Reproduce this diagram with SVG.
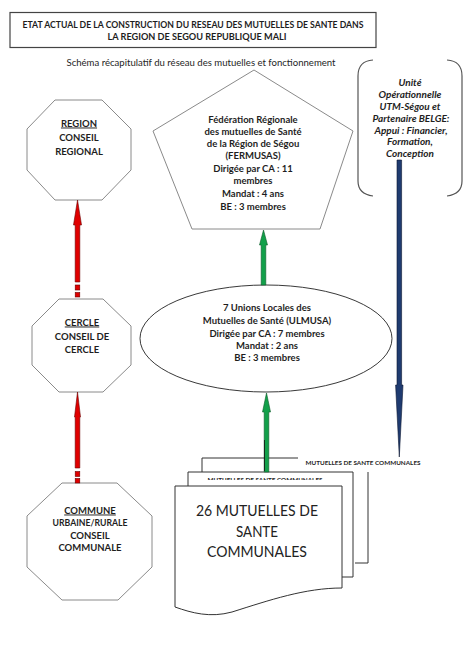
<svg xmlns="http://www.w3.org/2000/svg" width="474" height="647" viewBox="0 0 474 647">
<style>
  text { font-family: Lato, "Open Sans", "Liberation Sans", sans-serif; fill: #1e1e1e; text-anchor: middle; }
  .b { font-weight: bold; font-size: 9.5px; }
  .t { font-weight: bold; font-size: 9px; }
  .s { font-size: 8.5px; }
  .i { font-weight: bold; font-style: italic; font-size: 10px; }
  .d { font-weight: bold; font-size: 6.4px; }
  .big { font-size: 15px; fill: #222; }
  .oct { fill: #fff; stroke: #8a8a8a; stroke-width: 1; }
  .doc { fill: #fff; stroke: #333; stroke-width: 1; }
  .red { fill: #e00000; stroke: #6a0000; stroke-width: 0.6; }
  .grn { fill: #12a04a; stroke: #0a5a28; stroke-width: 0.6; }
  .blu { fill: #1f3b70; stroke: #0a1630; stroke-width: 0.6; }
</style>
<defs>
  <clipPath id="midclip"><rect x="180" y="470" width="180" height="10"/></clipPath>
</defs>
<rect width="474" height="647" fill="#fff"/>

<g id="title">
  <rect x="10" y="12.5" width="366" height="35" fill="#fff" stroke="#444" stroke-width="1.2"/>
  <text class="t" x="193" y="28" textLength="341" lengthAdjust="spacingAndGlyphs">ETAT ACTUAL DE LA CONSTRUCTION DU RESEAU DES MUTUELLES DE SANTE DANS</text>
  <text class="t" x="197" y="40" textLength="179" lengthAdjust="spacingAndGlyphs">LA REGION DE SEGOU REPUBLIQUE MALI</text>
</g>
<g id="subtitle">
  <text class="s" x="201" y="65.5" textLength="269" lengthAdjust="spacingAndGlyphs">Schéma récapitulatif du réseau des mutuelles et  fonctionnement</text>
</g>

<g id="region">
  <polygon class="oct" points="55,100 102,100 131,129 131,170 102,200 55,200 27,170 27,129"/>
  <text class="b" x="79" y="126.5" text-decoration="underline">REGION</text>
  <text class="b" x="79" y="140.5">CONSEIL</text>
  <text class="b" x="79" y="154.5">REGIONAL</text>
</g>

<g id="cercle">
  <polygon class="oct" points="59,299 103,299 131,326 131,365 103,392 59,392 32,365 32,326"/>
  <text class="b" x="82" y="325.5" text-decoration="underline">CERCLE</text>
  <text class="b" x="82" y="339.5">CONSEIL DE</text>
  <text class="b" x="82" y="352.5">CERCLE</text>
</g>

<g id="commune">
  <polygon class="oct" points="62,483 117,483 152,516 152,567 118,600 62,600 27,567 27,516"/>
  <text class="b" x="90" y="513.5" text-decoration="underline">COMMUNE</text>
  <text class="b" x="90" y="525.5" textLength="75" lengthAdjust="spacingAndGlyphs">URBAINE/RURALE</text>
  <text class="b" x="90" y="538.5">CONSEIL</text>
  <text class="b" x="90" y="550.5">COMMUNALE</text>
</g>

<g id="fermusas">
  <polygon points="254,70 353,131 320,229 192,229 153,131" fill="#fff" stroke="#8a8a8a" stroke-width="1"/>
  <text class="b" x="253" y="122.5">Fédération Régionale</text>
  <text class="b" x="253" y="134.5">des mutuelles de Santé</text>
  <text class="b" x="253" y="146.5">de la Région de Ségou</text>
  <text class="b" x="253" y="158.5">(FERMUSAS)</text>
  <text class="b" x="253" y="171.5">Dirigée par CA : 11</text>
  <text class="b" x="253" y="183.5">membres</text>
  <text class="b" x="253" y="196.5">Mandat : 4 ans</text>
  <text class="b" x="253" y="209.5">BE : 3 membres</text>
</g>

<g id="ulmusa">
  <ellipse cx="266" cy="338.5" rx="126" ry="53.5" fill="#fff" stroke="#222" stroke-width="0.9"/>
  <text class="b" x="267" y="310.5">7 Unions Locales des</text>
  <text class="b" x="267" y="323.5">Mutuelles de Santé (ULMUSA)</text>
  <text class="b" x="267" y="336.5">Dirigée par CA : 7 membres</text>
  <text class="b" x="267" y="348.5">Mandat : 2 ans</text>
  <text class="b" x="267" y="360.5">BE : 3 membres</text>
</g>

<g id="utm">
  <path d="M373,60 Q358,61 358,76 V181 Q358,194 373,196 M447,60 Q462,61 462,76 V181 Q462,194 447,196" fill="none" stroke="#555" stroke-width="1.2"/>
  <text class="i" x="410" y="85.5">Unité</text>
  <text class="i" x="410" y="98">Opérationnelle</text>
  <text class="i" x="410" y="110">UTM-Ségou et</text>
  <text class="i" x="411" y="121.5">Partenaire BELGE:</text>
  <text class="i" x="411" y="133.5">Appui : Financier,</text>
  <text class="i" x="410" y="145">Formation,</text>
  <text class="i" x="410" y="156.5">Conception</text>
</g>

<g id="mutuelles">
  <path class="doc" d="M202,472 V458 H298 M368,472 V563 H355" fill="none"/>
  <text class="d" x="363" y="465" textLength="115" lengthAdjust="spacingAndGlyphs">MUTUELLES DE SANTE COMMUNALES</text>
  <path class="doc" d="M188,486 V472 H353 V577 H342" fill="none"/>
  <text class="d" x="265" y="482" textLength="115" lengthAdjust="spacingAndGlyphs" clip-path="url(#midclip)">MUTUELLES DE SANTE COMMUNALES</text>
  <path class="doc" d="M175,486 H342 V588 C305,588 270,600 232,612 C210,618 192,613 175,607 Z"/>
  <text class="big" x="257" y="516" textLength="122" lengthAdjust="spacingAndGlyphs">26 MUTUELLES DE</text>
  <text class="big" x="257" y="536.5" textLength="42" lengthAdjust="spacingAndGlyphs">SANTE</text>
  <text class="big" x="257" y="556.5" textLength="100" lengthAdjust="spacingAndGlyphs">COMMUNALES</text>
</g>

<g id="connectors">
  <!-- cercle -> region -->
  <polygon class="red" points="77.5,200 81.5,225 79.8,225 79.8,282 75.2,282 75.2,225 73.5,225"/>
  <rect class="red" x="75.2" y="285" width="4.6" height="5"/>
  <rect class="red" x="75.2" y="292.5" width="4.6" height="4.5"/>
  <!-- commune -> cercle -->
  <polygon class="red" points="77.5,392 80.5,417 79.8,417 79.8,468 75.2,468 75.2,417 74.5,417"/>
  <rect class="red" x="75.2" y="471.5" width="4.6" height="5"/>
  <rect class="red" x="75.2" y="478.5" width="4.6" height="4.5"/>
  <!-- ulmusa -> fermusas -->
  <polygon class="grn" points="263.5,230 267.5,245 265.8,245 265.8,285 261.2,285 261.2,245 259.5,245"/>
  <!-- mutuelles -> ulmusa -->
  <polygon class="grn" points="266.5,393 270.5,412 268.8,412 268.8,472 264.2,472 264.2,412 262.5,412"/>
  <line x1="264.5" y1="440" x2="264.5" y2="471" stroke="#111" stroke-width="0.8"/>
  <!-- utm -> mutuelles -->
  <polygon class="blu" points="397,160 401.6,160 401.6,385 403,385 399.3,457 395.6,385 397,385"/>
</g>
</svg>
